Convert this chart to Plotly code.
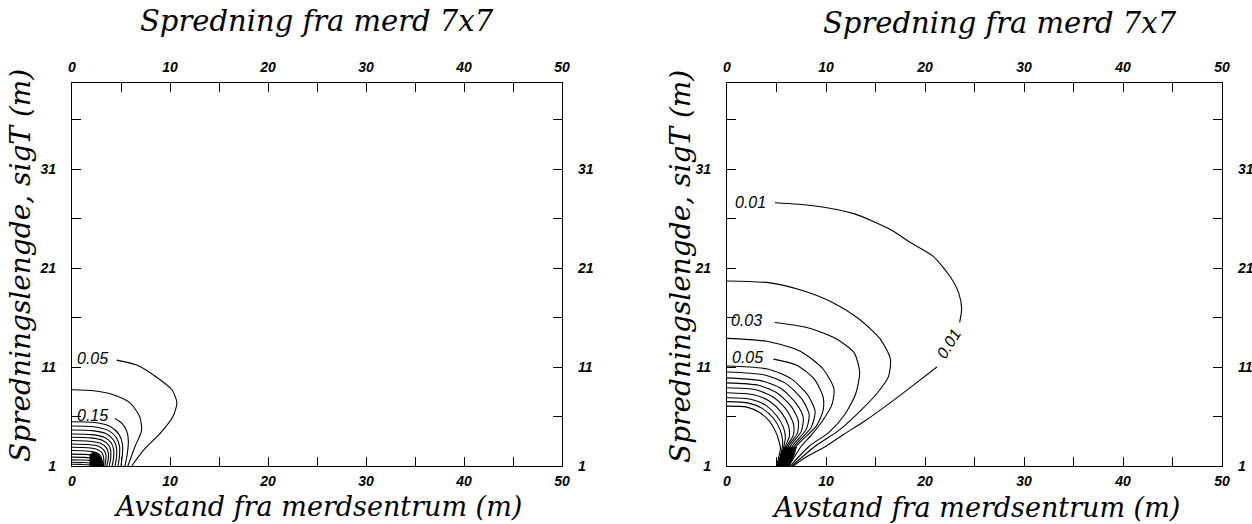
import plotly.graph_objects as go

# ---------------- data ----------------
TITLE = "Spredning fra merd 7x7"
X_TITLE = "Avstand fra merdsentrum (m)"
Y_TITLE = "Spredningslengde, sigT (m)"

X_TICKS = [0, 10, 20, 30, 40, 50]
X_MINOR = [5, 15, 25, 35, 45]
Y_TICKS = [1, 11, 21, 31]
Y_MINOR = [6, 16, 26, 36]

# Left panel contour lines (x = distance, y = sigT)
L_LEVELS = ["0.05", "0.10", "0.15", "0.20", "0.25", "0.30", "0.35", "0.40",
            "0.45", "0.50", "0.55", "0.60", "0.65", "0.70", "0.75", "0.80", "0.85"]
L_X = [
    [4.56, 6.6, 8.6, 10.2, 10.7, 10.3, 9.0, 7.3, 6.1],
    [0, 2.2, 4.2, 5.9, 6.9, 7.1, 6.4, 5.7],
    [4.4, 5.1, 5.6, 5.75, 5.65, 5.4],
    [0, 2.3, 3.9, 4.8, 5.15, 5.15, 5.0],
    [0, 2.2, 3.7, 4.5, 4.85, 4.85, 4.7],
    [0, 2.1, 3.5, 4.25, 4.55, 4.55, 4.4],
    [0, 2.0, 3.3, 4.0, 4.25, 4.25, 4.1],
    [0, 1.9, 3.1, 3.75, 3.95, 3.95, 3.8],
    [0, 1.8, 2.9, 3.5, 3.7, 3.7, 3.55],
    [0, 1.7, 2.7, 3.25, 3.45, 3.45, 3.35],
    [0, 1.6, 2.5, 3.0, 3.2, 3.25, 3.2],
    [0, 1.5, 2.3, 2.8, 3.0, 3.05, 3.0],
    [0, 1.4, 2.15, 2.6, 2.8, 2.85, 2.85],
    [0, 1.3, 2.0, 2.45, 2.65, 2.7],
    [0, 1.2, 1.9, 2.3, 2.55],
    [0, 1.1, 1.8, 2.4],
    [0, 1.0, 1.7, 2.25],
]
L_Y = [
    [11.7, 11.2, 10.0, 8.7, 7.4, 6.0, 4.3, 2.6, 1.0],
    [8.7, 8.6, 8.2, 7.4, 6.0, 4.6, 2.9, 1.0],
    [5.8, 5.3, 4.5, 3.5, 2.3, 1.0],
    [5.47, 5.4, 5.0, 4.2, 3.2, 2.2, 1.0],
    [5.04, 4.97, 4.6, 3.9, 3.0, 2.1, 1.0],
    [4.64, 4.57, 4.25, 3.6, 2.8, 2.0, 1.0],
    [4.24, 4.17, 3.9, 3.35, 2.65, 1.9, 1.0],
    [3.9, 3.84, 3.6, 3.1, 2.5, 1.8, 1.0],
    [3.57, 3.5, 3.3, 2.85, 2.35, 1.7, 1.0],
    [3.23, 3.17, 3.0, 2.6, 2.2, 1.6, 1.0],
    [2.9, 2.85, 2.7, 2.4, 2.0, 1.5, 1.0],
    [2.56, 2.52, 2.4, 2.15, 1.85, 1.4, 1.0],
    [2.2, 2.17, 2.07, 1.9, 1.65, 1.3, 1.0],
    [1.9, 1.87, 1.78, 1.62, 1.4, 1.0],
    [1.62, 1.6, 1.52, 1.38, 1.0],
    [1.38, 1.36, 1.3, 1.0],
    [1.17, 1.16, 1.12, 1.0],
]
L_WEDGE_X = [1.8, 3.25, 3.0, 2.6, 2.1, 1.8]
L_WEDGE_Y = [1.0, 1.0, 1.7, 2.3, 2.4, 2.0]
L_LABEL_TEXT = ["0.05", "0.15"]
L_LABEL_X = [2.1, 2.1]
L_LABEL_Y = [11.9, 6.15]

# Right panel contour lines
R_LEVELS = ["0.01", "0.01", "0.02", "0.03", "0.04", "0.05", "0.06", "0.07",
            "0.08", "0.09", "0.10", "0.11", "0.12", "0.13", "0.14"]
R_X = [
    [4.85, 8.7, 12.8, 16.5, 18.5, 20.8, 22.5, 23.4, 23.7, 23.5],
    [21.2, 19.0, 16.5, 14.0, 11.8, 10.0, 8.0, 6.7],
    [0, 4.35, 7.7, 10.7, 13.4, 15.5, 16.5, 16.3, 15.2, 13.5, 11.3, 8.9, 6.55],
    [4.85, 8.05, 10.75, 12.8, 13.4, 13.0, 11.9, 10.3, 8.3, 6.4],
    [0, 4.0, 7.4, 9.7, 10.8, 10.6, 9.6, 8.5, 7.5, 6.25],
    [4.7, 7.0, 8.8, 9.7, 9.7, 9.0, 7.0, 6.1],
    [0, 4.1, 6.5, 8.2, 8.9, 8.5, 6.8, 5.95],
    [0, 3.8, 6.0, 7.6, 8.3, 8.0, 6.6, 5.8],
    [0, 3.5, 5.5, 7.0, 7.7, 7.5, 6.4, 5.7],
    [0, 3.2, 5.1, 6.5, 7.2, 7.1, 6.2, 5.6],
    [0, 2.9, 4.7, 6.0, 6.7, 6.7, 6.05, 5.5],
    [0, 2.7, 4.3, 5.5, 6.2, 6.3, 5.9, 5.4],
    [0, 2.4, 3.9, 5.0, 5.7, 5.9, 5.75, 5.3],
    [0, 2.2, 3.6, 4.7, 5.35, 5.6, 5.6, 5.15],
    [0, 2.0, 3.3, 4.3, 4.9, 5.25, 5.4, 5.0],
]
R_Y = [
    [27.6, 27.3, 26.5, 24.9, 23.6, 22.2, 20.2, 18.5, 16.9, 15.5],
    [11.0, 9.3, 7.4, 5.6, 4.2, 3.0, 1.9, 1.0],
    [19.7, 19.5, 18.7, 17.5, 15.8, 13.8, 11.8, 10.0, 8.4, 6.6, 4.6, 3.0, 1.0],
    [15.5, 15.0, 14.0, 12.5, 10.5, 8.3, 6.2, 4.4, 3.0, 1.0],
    [13.9, 13.6, 12.6, 10.8, 8.8, 7.2, 5.5, 4.1, 3.0, 1.0],
    [11.8, 11.2, 9.8, 8.0, 6.6, 5.0, 3.0, 1.0],
    [11.1, 10.8, 9.8, 8.1, 6.5, 4.9, 3.0, 1.0],
    [10.5, 10.2, 9.3, 7.7, 6.2, 4.7, 3.0, 1.0],
    [9.9, 9.6, 8.8, 7.3, 5.9, 4.5, 3.0, 1.0],
    [9.4, 9.15, 8.35, 7.0, 5.6, 4.3, 3.0, 1.0],
    [8.9, 8.7, 7.95, 6.7, 5.3, 4.1, 3.0, 1.0],
    [8.4, 8.2, 7.55, 6.4, 5.1, 4.0, 3.0, 1.0],
    [7.9, 7.75, 7.15, 6.1, 4.9, 3.9, 3.0, 1.0],
    [7.5, 7.35, 6.8, 5.8, 4.7, 3.7, 3.0, 1.0],
    [7.05, 6.95, 6.4, 5.5, 4.5, 3.5, 2.8, 1.0],
]
R_WEDGE_X = [5.0, 6.3, 6.8, 7.0, 5.8, 5.4]
R_WEDGE_Y = [1.0, 1.0, 2.2, 2.9, 2.9, 2.1]
R_LABEL_TEXT = ["0.01", "0.03", "0.05", "0.01"]
R_LABEL_X = [2.4, 2.0, 2.1, 22.4]
R_LABEL_Y = [27.6, 15.7, 12.0, 13.4]
R_LABEL_ANGLE = [0, 0, 0, -58]

# ---------------- figure ----------------
W, H = 1252, 524
Y_BOT, Y_TOP = 466, 83
L_DOM = [72 / W, 562 / W]
R_DOM = [727 / W, 1222 / W]
Y_DOM = [(H - Y_BOT) / H, (H - Y_TOP) / H]
X_RANGE = [0, 50]
Y_RANGE = [1, 39.7]

TITLEF = dict(family="DejaVu Serif", size=29, color="black", style="italic")
XTITLEF = dict(family="DejaVu Serif", size=27, color="black", style="italic")
YTITLEF = dict(family="DejaVu Serif", size=28, color="black", style="italic")
TICKF = dict(family="Liberation Sans", size=14, color="black", style="italic", weight="bold")
LABF = dict(family="Liberation Sans", size=16, color="black", style="italic")

fig = go.Figure()
LINE = dict(color="black", width=1.1, shape="spline", smoothing=0.7)


def add_panel(xs, ys, wx, wy, xa, ya, xa_top, ya_right):
    for i, (x, y) in enumerate(zip(xs, ys)):
        ax = xa_top if i == 0 else xa
        ay = ya_right if i == 1 else ya
        fig.add_trace(go.Scatter(x=x, y=y, mode="lines", line=LINE,
                                 hoverinfo="skip", showlegend=False,
                                 xaxis=ax, yaxis=ay))
    fig.add_trace(go.Scatter(x=wx, y=wy, mode="lines", fill="toself",
                             fillcolor="black", line=dict(color="black", width=1),
                             hoverinfo="skip", showlegend=False,
                             xaxis=xa, yaxis=ya))


add_panel(L_X, L_Y, L_WEDGE_X, L_WEDGE_Y, "x", "y", "x3", "y3")
add_panel(R_X, R_Y, R_WEDGE_X, R_WEDGE_Y, "x2", "y2", "x4", "y4")


def xaxis(dom, side, anchor, overlay=None, standoff=2):
    d = dict(domain=dom, range=X_RANGE, side=side, anchor=anchor,
             tickvals=X_TICKS, ticktext=[str(v) for v in X_TICKS],
             ticks="inside", ticklen=9, tickwidth=1, tickcolor="black",
             minor=dict(tickvals=X_MINOR, ticks="inside", ticklen=9,
                        tickwidth=1, tickcolor="black", showgrid=False),
             showline=True, linecolor="black", linewidth=1.2,
             showgrid=False, zeroline=False, tickfont=TICKF,
             ticklabelstandoff=standoff, fixedrange=True)
    if overlay:
        d["overlaying"] = overlay
    return d


def yaxis(dom, side, anchor, overlay=None, standoff=12):
    d = dict(domain=dom, range=Y_RANGE, side=side, anchor=anchor,
             tickvals=Y_TICKS, ticktext=[str(v) for v in Y_TICKS],
             ticks="inside", ticklen=9, tickwidth=1, tickcolor="black",
             minor=dict(tickvals=Y_MINOR, ticks="inside", ticklen=9,
                        tickwidth=1, tickcolor="black", showgrid=False),
             showline=True, linecolor="black", linewidth=1.2,
             showgrid=False, zeroline=False, tickfont=TICKF,
             ticklabelstandoff=standoff, fixedrange=True)
    if overlay:
        d["overlaying"] = overlay
    return d


fig.update_layout(
    width=W, height=H,
    margin=dict(l=0, r=0, t=0, b=0, autoexpand=False),
    paper_bgcolor="white", plot_bgcolor="white",
    showlegend=False,
    xaxis=xaxis(L_DOM, "bottom", "y"),
    yaxis=yaxis(Y_DOM, "left", "x"),
    xaxis3=xaxis(L_DOM, "top", "y", overlay="x", standoff=4),
    yaxis3=yaxis(Y_DOM, "right", "x", overlay="y"),
    xaxis2=xaxis(R_DOM, "bottom", "y2"),
    yaxis2=yaxis(Y_DOM, "left", "x2"),
    xaxis4=xaxis(R_DOM, "top", "y2", overlay="x2", standoff=4),
    yaxis4=yaxis(Y_DOM, "right", "x2", overlay="y2"),
)

annotations = []
for t, x, y in zip(L_LABEL_TEXT, L_LABEL_X, L_LABEL_Y):
    annotations.append(dict(text=t, x=x, y=y, xref="x", yref="y",
                            showarrow=False, font=LABF))
for t, x, y, a in zip(R_LABEL_TEXT, R_LABEL_X, R_LABEL_Y, R_LABEL_ANGLE):
    annotations.append(dict(text=t, x=x, y=y, xref="x2", yref="y2",
                            showarrow=False, font=LABF, textangle=a))

for cx, tx, ty, xt, yt in [(317, 21, 506, 317, 20), (1000, 23, 507, 975, 680)]:
    annotations.append(dict(text=TITLE, x=cx / W, y=1 - tx / H, xref="paper", yref="paper",
                            showarrow=False, font=TITLEF, xanchor="center", yanchor="middle"))
    annotations.append(dict(text=X_TITLE, x=xt / W, y=1 - ty / H, xref="paper", yref="paper",
                            showarrow=False, font=XTITLEF, xanchor="center", yanchor="middle"))
    annotations.append(dict(text=Y_TITLE, x=yt / W, y=1 - 266 / H, xref="paper", yref="paper",
                            showarrow=False, font=YTITLEF, textangle=-90,
                            xanchor="center", yanchor="middle"))

fig.update_layout(annotations=annotations)
fig.write_html("out.html")
